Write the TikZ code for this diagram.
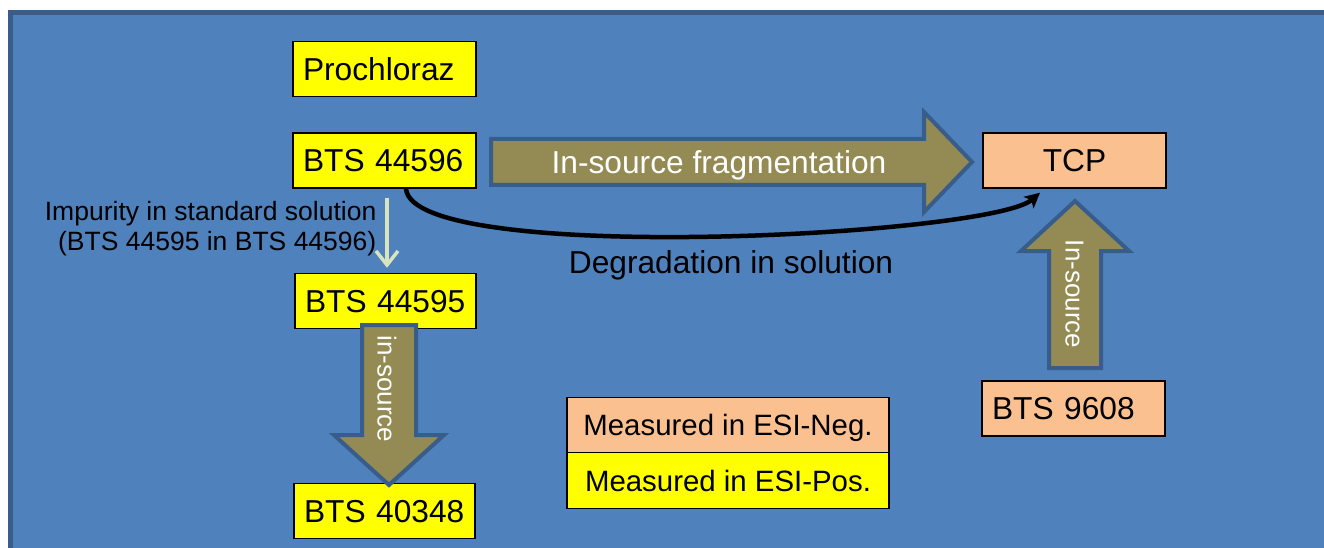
\documentclass[tikz,border=0pt]{standalone}
\usepackage{fontspec}
\setmainfont{Liberation Sans}
\usetikzlibrary{arrows.meta}
\definecolor{bgblue}{HTML}{4F81BD}
\definecolor{edgeblue}{HTML}{385D8A}
\definecolor{arrolive}{HTML}{948A54}
\definecolor{peach}{HTML}{FAC090}
\definecolor{yel}{HTML}{FFFF00}
\definecolor{palegreen}{HTML}{D7E4BD}
\begin{document}
\begin{tikzpicture}[x=1pt,y=-1pt,
  bigfont/.style={font=\fontsize{31.7pt}{38pt}\selectfont},
  box/.style={draw=black, line width=1.4pt, bigfont, inner ysep=0pt,
    minimum height=55pt, text height=22.7pt, text depth=0pt},
  lbox/.style={box, inner xsep=10pt, text width=#1, align=left},
  cbox/.style={box, inner xsep=0pt, minimum width=#1},
  legbox/.style={draw=black, line width=1.4pt, inner sep=0pt, minimum width=322pt,
    minimum height=55.5pt, font=\fontsize{29.4pt}{35pt}\selectfont,
    text height=21pt, text depth=0pt},
  blockarrow/.style={fill=arrolive, draw=edgeblue, line width=4pt, line join=miter},
  vtext/.style={rotate=-90, text=white, inner sep=0pt,
    font=\fontsize{26pt}{30pt}\selectfont, text height=18.6pt, text depth=0pt},
  greenarrow/.style={draw=palegreen, line width=3.5pt,
    -{Straight Barb[length=14pt,width=22pt,line width=3.5pt]}},
  curvearrow/.style={draw=black, line width=4.5pt,
    -{Stealth[length=15pt,width=15pt,inset=3.5pt]}}
]
\useasboundingbox (0,0) rectangle (1324,548);
\begin{scope}
  \clip (0,0) rectangle (1324,548);
  \fill[white] (0,0) rectangle (1324,548);
  \draw[fill=bgblue, draw=edgeblue, line width=4.5pt] (10.5,12.5) rectangle (1345,565);
\end{scope}

% boxes
\node[lbox=163pt, fill=yel] (pro)    at (384.5,69)    {Prochloraz};
\node[lbox=163pt, fill=yel] (b44596) at (384.5,160.5) {BTS 44596};
\node[lbox=161pt, fill=yel] (b44595) at (385.5,301)   {BTS 44595};
\node[lbox=161pt, fill=yel] (b40348) at (384.5,511)   {BTS 40348};
\node[cbox=183pt, fill=peach] (tcp)  at (1074.5,160.5) {TCP};
\node[lbox=163pt, fill=peach] (b9608) at (1073.5,408.5) {BTS 9608};

% legend
\node[legbox, fill=peach] (neg) at (728,425)   {Measured in ESI-Neg.};
\node[legbox, fill=yel]   (pos) at (728,480.5) {Measured in ESI-Pos.};

% block arrows
\draw[blockarrow] (491,139) -- (924,139) -- (924,112) -- (972,162) -- (924,212)
  -- (924,185) -- (491,185) -- cycle;
\node[bigfont, text=white, inner sep=0pt, text height=22.7pt, text depth=0pt]
  (frag) at (719,162) {In-source fragmentation};

\draw[blockarrow] (362,325) -- (416,325) -- (416,435) -- (444,435) -- (389,485)
  -- (334,435) -- (362,435) -- cycle;
\node[vtext] (ins1) at (387,389) {in-source};

\draw[blockarrow] (1049,368) -- (1101,368) -- (1101,251) -- (1129,251) -- (1075,201)
  -- (1021,251) -- (1049,251) -- cycle;
\node[vtext] (ins2) at (1075,294) {In-source};

% impurity arrow and label
\draw[greenarrow] ([xshift=2.5pt,yshift=-9pt]b44596.south) -- ([xshift=1.5pt,yshift=5pt]b44595.north);
\node[anchor=north east, align=right, inner sep=0pt,
  font=\fontsize{26.5pt}{30pt}\selectfont] (imp) at (376.5,201)
  {Impurity in standard solution\\(BTS 44595 in BTS 44596)};

% degradation curve
\draw[curvearrow] ([xshift=21.5pt]b44596.south) .. controls (412,266) and (990,236)
  .. ([xshift=-34.5pt,yshift=-4pt]tcp.south);
\node[bigfont, inner sep=0pt, text height=22.7pt, text depth=0pt]
  (degr) at (731,262.5) {Degradation in solution};
\end{tikzpicture}
\end{document}
